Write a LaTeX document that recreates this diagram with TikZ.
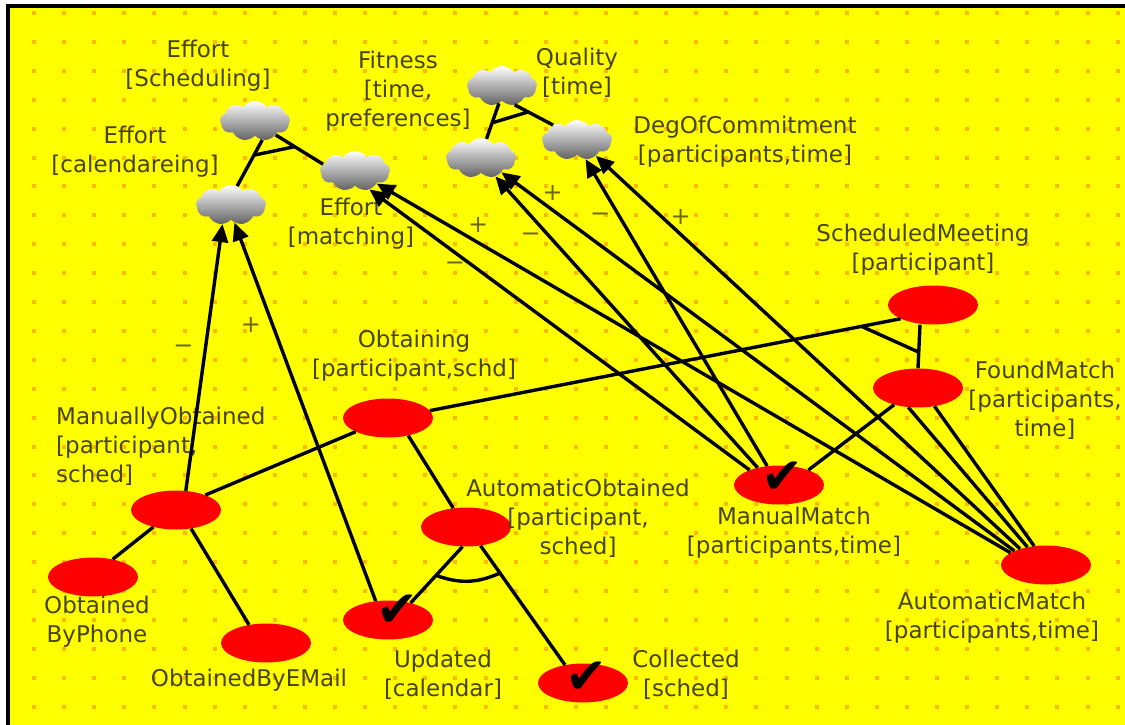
\documentclass[tikz,border=0pt]{standalone}
\usepackage{fontspec}
\setmainfont{DejaVu Sans}
\usepackage{tikz}
\usetikzlibrary{shapes, shapes.symbols, arrows.meta, positioning, calc}

\definecolor{bgyellow}{RGB}{255,255,0}
\definecolor{griddot}{RGB}{255,184,0}
\definecolor{goalred}{RGB}{255,0,0}
\definecolor{labeltext}{RGB}{70,68,0}
\definecolor{signtext}{RGB}{110,104,0}

\tikzset{
  goal/.style={ellipse, fill=goalred, minimum width=90pt, minimum height=39pt, inner sep=0pt},
  softgoal/.style={cloud, cloud puffs=9, cloud puff arc=110, aspect=1.8,
    minimum width=70pt, minimum height=40pt, inner sep=0pt,
    top color=white, bottom color=black!62},
  lbl/.style={text=labeltext, align=center, inner sep=0pt,
    font=\fontsize{23}{29}\selectfont},
  sign/.style={text=signtext, inner sep=0pt, font=\fontsize{24}{24}\selectfont},
  decomp/.style={line width=3.4pt},
  andmark/.style={line width=3.4pt},
  contrib/.style={line width=3.4pt, -{Triangle[length=18pt,width=16pt]}},
  tick/.style={text=black, inner sep=0pt, font=\fontsize{50}{50}\selectfont}
}

\begin{document}
\begin{tikzpicture}[x=1pt, y=-1pt]
  \useasboundingbox (0,0) rectangle (1125,725);
  % background with dotted grid
  \fill[white] (0,0) rectangle (1125,725);
  \fill[bgyellow] (8,6) rectangle (1125,725);
  \foreach \i in {0,...,36}
    \foreach \j in {0,...,24}
      \fill[griddot] ({32+30.1*\i},{11+28.9*\j}) rectangle ++(4,4);
  \draw[line width=4pt] (8,725) -- (8,6) -- (1125,6);

  % softgoals
  \node[softgoal] (effSched) at (255,121) {}
    node[lbl] (effSchedLbl) at (198,66) {Effort\\{}[Scheduling]};
  \node[softgoal] (effCal) at (231,205) {}
    node[lbl] (effCalLbl) at (135,152) {Effort\\{}[calendareing]};
  \node[softgoal] (effMatch) at (355,171) {}
    node[lbl] (effMatchLbl) at (351,224) {Effort\\{}[matching]};
  \node[softgoal] (quality) at (502,86) {}
    node[lbl] (qualityLbl) at (577,73) {Quality\\{}[time]};
  \node[softgoal] (fitness) at (481,158) {}
    node[lbl] (fitnessLbl) at (398,91) {Fitness\\{}[time,\\preferences]};
  \node[softgoal] (degComm) at (577,140) {}
    node[lbl] (degCommLbl) at (745,142) {DegOfCommitment\\{}[participants,time]};

  % goals
  \node[goal] (schedMeet) at (933,305) {}
    node[lbl] (schedMeetLbl) at (923,250) {ScheduledMeeting\\{}[participant]};
  \node[goal] (foundMatch) at (918,388) {}
    node[lbl] (foundMatchLbl) at (1045,400) {FoundMatch\\{}[participants,\\time]};
  \node[goal] (obtaining) at (388,418) {}
    node[lbl] (obtainingLbl) at (414,356) {Obtaining\\{}[participant,schd]};
  \node[goal] (manObt) at (176,510) {}
    node[lbl, anchor=west, align=left] (manObtLbl) at (56,446)
      {ManuallyObtained\\{}[participant,\\sched]};
  \node[goal] (autoObt) at (466,527) {}
    node[lbl] (autoObtLbl) at (578,518) {AutomaticObtained\\{}[participant,\\sched]};
  \node[goal] (manMatch) at (779,485) {}
    node[lbl] (manMatchLbl) at (794,533) {ManualMatch\\{}[participants,time]};
  \node[goal] (autoMatch) at (1046,565) {}
    node[lbl] (autoMatchLbl) at (992,618) {AutomaticMatch\\{}[participants,time]};
  \node[goal] (byPhone) at (93,577) {}
    node[lbl] (byPhoneLbl) at (97,622) {Obtained\\ByPhone};
  \node[goal] (byEMail) at (266,643) {}
    node[lbl] (byEMailLbl) at (249,680) {ObtainedByEMail};
  \node[goal] (updated) at (388,620) {}
    node[lbl] (updatedLbl) at (443,675) {Updated\\{}[calendar]};
  \node[goal] (collected) at (583,683) {}
    node[lbl] (collectedLbl) at (686,675) {Collected\\{}[sched]};

  % and-decompositions
  \draw[decomp] (effSched.-69) -- (effCal.72) coordinate[pos=0.33] (effAndA);
  \draw[decomp] (effSched.-34) -- (effMatch.168) coordinate[pos=0.4] (effAndB);
  \draw[andmark] (effAndA) -- (effAndB);

  \draw[decomp] (quality.-100) -- (fitness.74) coordinate[pos=0.55] (qualAndA);
  \draw[decomp] (quality.-56) -- (degComm.148) coordinate[pos=0.35] (qualAndB);
  \draw[andmark] (qualAndA) -- (qualAndB);

  \draw[decomp] (schedMeet.203) -- (obtaining.10) coordinate[pos=0.083] (schedAndA);
  \draw[decomp] ([xshift=-13pt]schedMeet.south) -- (foundMatch.north)
    coordinate[pos=0.63] (schedAndB);
  \draw[andmark] (schedAndA) -- (schedAndB);

  \draw[decomp] (obtaining.203) -- (manObt.27);
  \draw[decomp] (obtaining.-41) -- (autoObt.124);
  \draw[decomp] (manObt.217) -- (byPhone.42);
  \draw[decomp] (manObt.-51) -- (byEMail.133);

  \draw[decomp] (autoObt.-100) -- (updated.37) coordinate[pos=0.51] (autoAndA);
  \draw[decomp] (autoObt.-52) -- (collected.135) coordinate[pos=0.23] (autoAndB);
  \draw[andmark] (autoAndA) to[bend right=22] (autoAndB);

  \draw[decomp] (foundMatch.215) -- (manMatch.27);
  \draw[decomp] (foundMatch.243) -- (autoMatch.136);
  \draw[decomp] (foundMatch.312) -- (autoMatch.122);

  % contributions
  \draw[contrib] (manObt.63) -- node[sign, pos=0.53, left=10pt] (signA) {−} (effCal.-114);
  \draw[contrib] (updated.123) -- node[sign, pos=0.73, left=10pt] (signB) {+} (effCal.-79);
  \draw[contrib] (manMatch.153) -- node[sign, pos=0.775, below=8pt] (signC) {−} (effMatch.-52);
  \draw[contrib] (autoMatch.161) -- node[sign, pos=0.84, above=8pt] (signD) {+} (effMatch.-30);
  \draw[contrib] (manMatch.141) -- node[sign, pos=0.79, left=8pt] (signE) {−} (fitness.-52);
  \draw[contrib] (autoMatch.156) -- node[sign, pos=0.9, above=8pt] (signF) {+} (fitness.-35);
  \draw[contrib] (manMatch.122) -- node[sign, pos=0.81, left=8pt] (signG) {−} (degComm.-66);
  \draw[contrib] (autoMatch.148) -- node[sign, pos=0.8, above=8pt] (signH) {+} (degComm.-40);

  % satisfied goals
  \node[tick] (updatedTick) at (397,611) {✔};
  \node[tick] (collectedTick) at (586,678) {✔};
  \node[tick] (manMatchTick) at (782,478) {✔};
\end{tikzpicture}
\end{document}
